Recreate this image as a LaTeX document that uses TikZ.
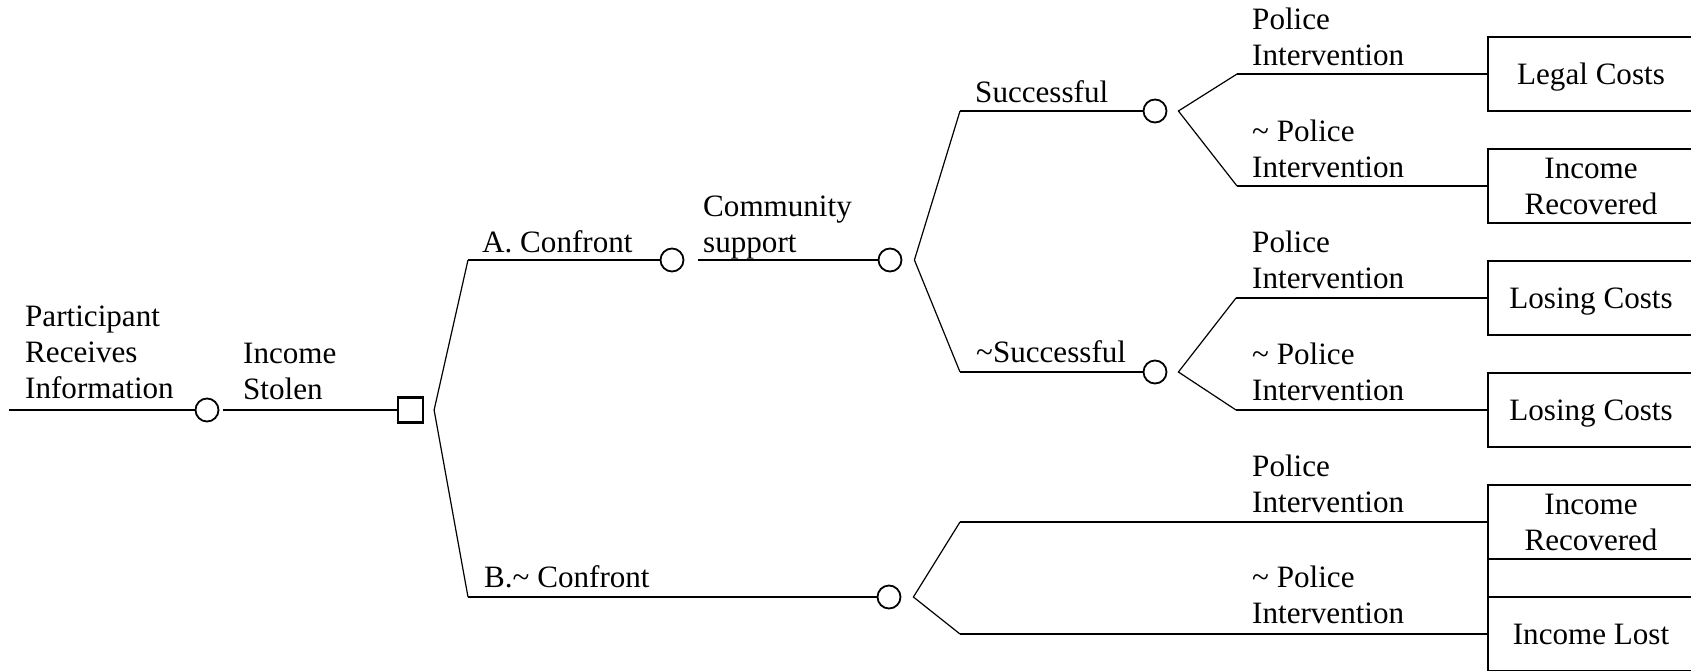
\documentclass[tikz,border=0pt]{standalone}
\usepackage{fontspec}
\setmainfont{Liberation Serif}
\begin{document}
\begin{tikzpicture}[x=1pt,y=-1pt,
  hl/.style={line width=2.4pt},
  dl/.style={line width=1.2pt},
  chance/.style={circle,draw,line width=1.8pt,minimum size=23pt,inner sep=0pt},
  decis/.style={rectangle,draw,line width=2.2pt,minimum size=25pt,inner sep=0pt},
  outc/.style={rectangle,draw,line width=2.4pt,minimum width=206pt,minimum height=74pt,inner sep=0pt,align=center,text depth=0pt},
  lbl/.style={anchor=base west,inner sep=0pt},
  every node/.append style={font=\fontsize{31.1}{36}\selectfont}]
\useasboundingbox (0,0) rectangle (1691,670);
\clip (0,0) rectangle (1691,670);

% first stages
\coordinate (s0) at (9,410);
\node[chance] (c1) at (207,410) {};
\node[decis] (d1) at (410.5,410) {};
\draw[hl] (s0) -- (c1.west);
\draw[hl] ([xshift=4pt]c1.east) -- (d1.west);

% decision bracket
\coordinate (apx1) at ([xshift=10pt]d1.east);
\coordinate (a0) at (468,260);
\coordinate (b0) at (468,597);
\draw[dl] (a0) -- (apx1) -- (b0);

% A branch
\node[chance] (c2) at (672,260) {};
\node[chance] (c3) at (890,260) {};
\draw[hl] (a0) -- (c2.west);
\draw[hl] ([xshift=14pt]c2.east) -- (c3.west);

\coordinate (apx2) at ([xshift=12pt]c3.east);
\coordinate (s1) at (960,111);
\coordinate (s2) at (960,372);
\draw[dl] (s1) -- (apx2) -- (s2);

\node[chance] (c4) at (1155,111) {};
\node[chance] (c5) at (1155,372) {};
\draw[hl] (s1) -- (c4.west);
\draw[hl] (s2) -- (c5.west);

\coordinate (apx3) at ([xshift=11pt]c4.east);
\coordinate (p1) at (1237,74);
\coordinate (p2) at (1237,186);
\draw[dl] (p1) -- (apx3) -- (p2);

\coordinate (apx4) at ([xshift=11pt]c5.east);
\coordinate (p3) at (1236,298);
\coordinate (p4) at (1236,410);
\draw[dl] (p3) -- (apx4) -- (p4);

% B branch
\node[chance] (c6) at (889,597) {};
\draw[hl] (b0) -- (c6.west);
\coordinate (apx5) at ([xshift=12pt]c6.east);
\coordinate (p5) at (960,522);
\coordinate (p6) at (960,634);
\draw[dl] (p5) -- (apx5) -- (p6);

% outcome boxes
\node[outc] (o1) at (1591,74) {Legal Costs};
\node[outc] (o2) at (1591,186) {Income\\Recovered};
\node[outc] (o3) at (1591,298) {Losing Costs};
\node[outc] (o4) at (1591,410) {Losing Costs};
\node[outc] (o5) at (1591,522) {Income\\Recovered};
\node[outc,minimum height=38pt] (o6) at (1591,578) {};
\node[outc] (o7) at (1591,634) {Income Lost};

\draw[hl] (p1) -- (p1 -| o1.west);
\draw[hl] (p2) -- (p2 -| o2.west);
\draw[hl] (p3) -- (p3 -| o3.west);
\draw[hl] (p4) -- (p4 -| o4.west);
\draw[hl] (p5) -- (p5 -| o5.west);
\draw[hl] (p6) -- (p6 -| o7.west);

% labels
\node[lbl] (t1) at (25,398) {\begin{tabular}[b]{@{}l@{}}Participant\\Receives\\Information\end{tabular}};
\node[lbl] (t2) at (243,399) {\begin{tabular}[b]{@{}l@{}}Income\\Stolen\end{tabular}};
\node[lbl] (t3) at (482,252) {A. Confront};
\node[lbl] (t4) at (703,252) {\begin{tabular}[b]{@{}l@{}}Community\\support\end{tabular}};
\node[lbl] (t5) at (975,102) {Successful};
\node[lbl] (t6) at (976,362) {\textasciitilde Successful};
\node[lbl] (t7) at (484,587) {B.\textasciitilde{} Confront};
\node[lbl] (t8) at (1252,65) {\begin{tabular}[b]{@{}l@{}}Police\\Intervention\end{tabular}};
\node[lbl] (t9) at (1252,177) {\begin{tabular}[b]{@{}l@{}}\textasciitilde{} Police\\Intervention\end{tabular}};
\node[lbl] (t10) at (1252,288) {\begin{tabular}[b]{@{}l@{}}Police\\Intervention\end{tabular}};
\node[lbl] (t11) at (1252,400) {\begin{tabular}[b]{@{}l@{}}\textasciitilde{} Police\\Intervention\end{tabular}};
\node[lbl] (t12) at (1252,512) {\begin{tabular}[b]{@{}l@{}}Police\\Intervention\end{tabular}};
\node[lbl] (t13) at (1252,623) {\begin{tabular}[b]{@{}l@{}}\textasciitilde{} Police\\Intervention\end{tabular}};
\end{tikzpicture}
\end{document}
